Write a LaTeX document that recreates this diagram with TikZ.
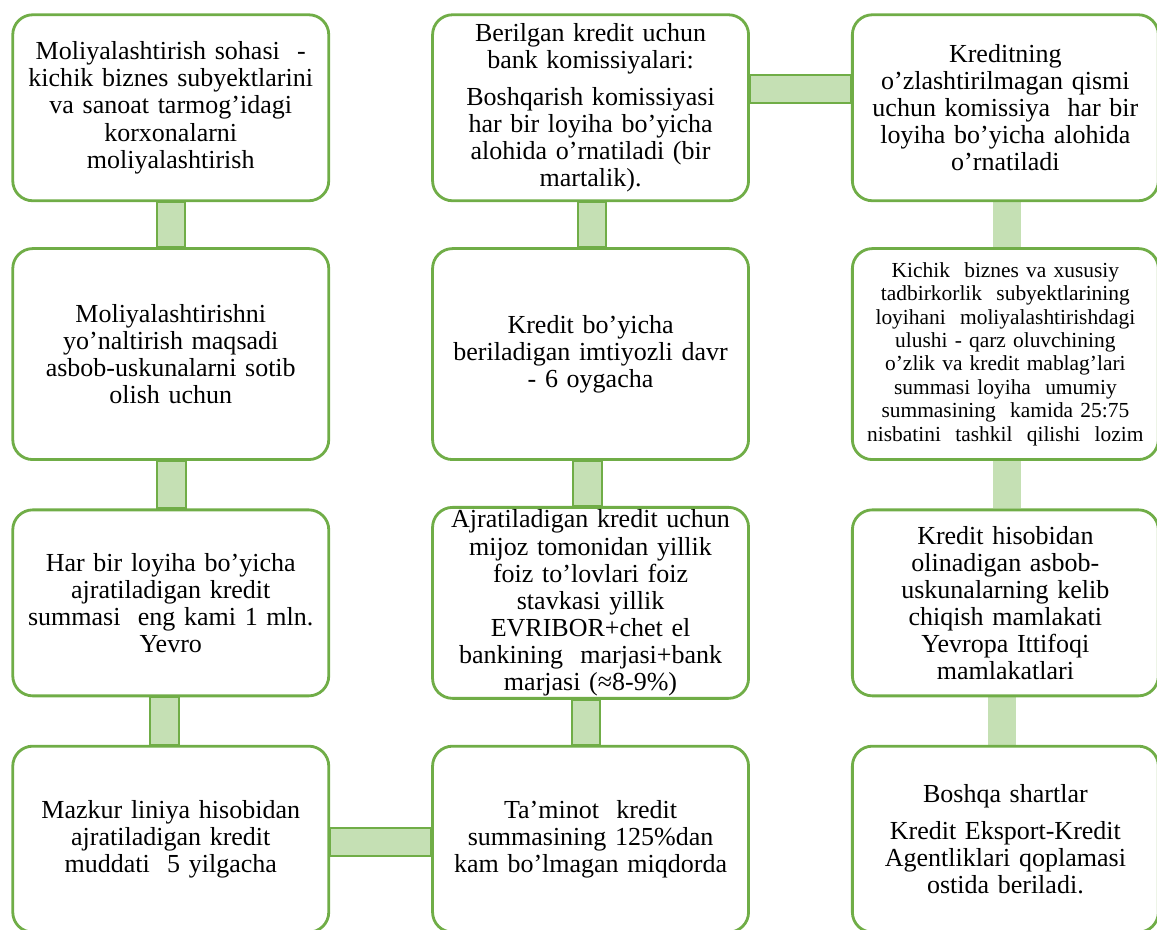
\documentclass[tikz,border=0pt]{standalone}
\usepackage{fontspec}
\setmainfont{Liberation Serif}
\usetikzlibrary{matrix,backgrounds}
\definecolor{boxgreen}{HTML}{70AD47}
\definecolor{barfill}{HTML}{C5E0B4}

\begin{document}
\begin{tikzpicture}[
  box/.style={draw=boxgreen, line width=1.6pt, fill=white, rounded corners=0.4cm, align=center,
    anchor=center, text width=6.15cm, minimum width=6.32cm, minimum height=3.72cm, inner sep=0.05cm,
    font=\fontsize{14.8}{15.4}\selectfont},
  tall/.style={minimum height=4.22cm},
  small/.style={font=\fontsize{12.2}{13.3}\selectfont},
  bar/.style={draw=boxgreen, line width=1.1pt, fill=barfill},
  barplain/.style={fill=barfill}]
\useasboundingbox (0,0) rectangle (23.14,-18.58);
\matrix (m) [matrix of nodes, anchor=north west, inner sep=0pt, row sep=0.9cm, column sep=2.02cm, nodes={box},
  column 3/.style={nodes={minimum width=6.12cm, text width=6.0cm}}] at (0.22,-0.26)
{
  {Moliyalashtirish sohasi\ \ -\\ kichik biznes subyektlarini\\ va sanoat tarmog’idagi\\ korxonalarni\\ moliyalashtirish} &
  {Berilgan kredit uchun\\ bank komissiyalari:\\[0.2cm] Boshqarish komissiyasi\\ har bir loyiha bo’yicha\\ alohida o’rnatiladi (bir\\ martalik).} &
  {Kreditning\\ o’zlashtirilmagan qismi\\ uchun komissiya\ \ har bir\\ loyiha bo’yicha alohida\\ o’rnatiladi} \\
  |[tall]| {Moliyalashtirishni\\ yo’naltirish maqsadi\\ asbob-uskunalarni sotib\\ olish uchun} &
  |[tall]| {Kredit bo’yicha\\ beriladigan imtiyozli davr\\ - 6 oygacha} &
  |[tall,small]| {Kichik\ \ biznes va xususiy\\ tadbirkorlik\ \ subyektlarining\\ loyihani\ \ moliyalashtirishdagi\\ ulushi - qarz oluvchining\\ o’zlik va kredit mablag’lari\\ summasi loyiha\ \ umumiy\\ summasining\ \ kamida 25:75\\ nisbatini\ \ tashkil\ \ qilishi\ \ lozim} \\
  {Har bir loyiha bo’yicha\\ ajratiladigan kredit\\ summasi\ \ eng kami 1 mln.\\ Yevro} &
  {Ajratiladigan kredit uchun\\ mijoz tomonidan yillik\\ foiz to’lovlari foiz\\ stavkasi yillik\\ EVRIBOR+chet el\\ bankining\ \ marjasi+bank\\ marjasi (≈8-9\%)} &
  {Kredit hisobidan\\ olinadigan asbob-\\ uskunalarning kelib\\ chiqish mamlakati\\ Yevropa Ittifoqi\\ mamlakatlari} \\
  {Mazkur liniya hisobidan\\ ajratiladigan kredit\\ muddati\ \ 5 yilgacha} &
  {Ta’minot\ \ kredit\\ summasining 125\%dan\\ kam bo’lmagan miqdorda} &
  {Boshqa shartlar\\[0.2cm] Kredit Eksport-Kredit\\ Agentliklari qoplamasi\\ ostida beriladi.} \\
};
\begin{scope}[on background layer]
  \draw[bar] ([xshift=-0.28cm]m-1-1.south) rectangle ([xshift=0.28cm]m-2-1.north);
  \draw[bar] ([xshift=-0.27cm]m-2-1.south) rectangle ([xshift=0.30cm]m-3-1.north);
  \draw[bar] ([xshift=-0.42cm]m-3-1.south) rectangle ([xshift=0.16cm]m-4-1.north);
  \draw[bar] ([xshift=-0.26cm]m-1-2.south) rectangle ([xshift=0.30cm]m-2-2.north);
  \draw[bar] ([xshift=-0.36cm]m-2-2.south) rectangle ([xshift=0.22cm]m-3-2.north);
  \draw[bar] ([xshift=-0.38cm]m-3-2.south) rectangle ([xshift=0.18cm]m-4-2.north);
  \fill[barplain] ([xshift=-0.24cm]m-1-3.south) rectangle ([xshift=0.32cm]m-2-3.north);
  \fill[barplain] ([xshift=-0.24cm]m-2-3.south) rectangle ([xshift=0.32cm]m-3-3.north);
  \fill[barplain] ([xshift=-0.34cm]m-3-3.south) rectangle ([xshift=0.22cm]m-4-3.north);
  \draw[bar] ([yshift=0.66cm]m-1-2.east) rectangle ([yshift=0.10cm]m-1-3.west);
  \draw[bar] ([yshift=0.22cm]m-4-1.east) rectangle ([yshift=-0.34cm]m-4-2.west);
\end{scope}
\end{tikzpicture}
\end{document}
